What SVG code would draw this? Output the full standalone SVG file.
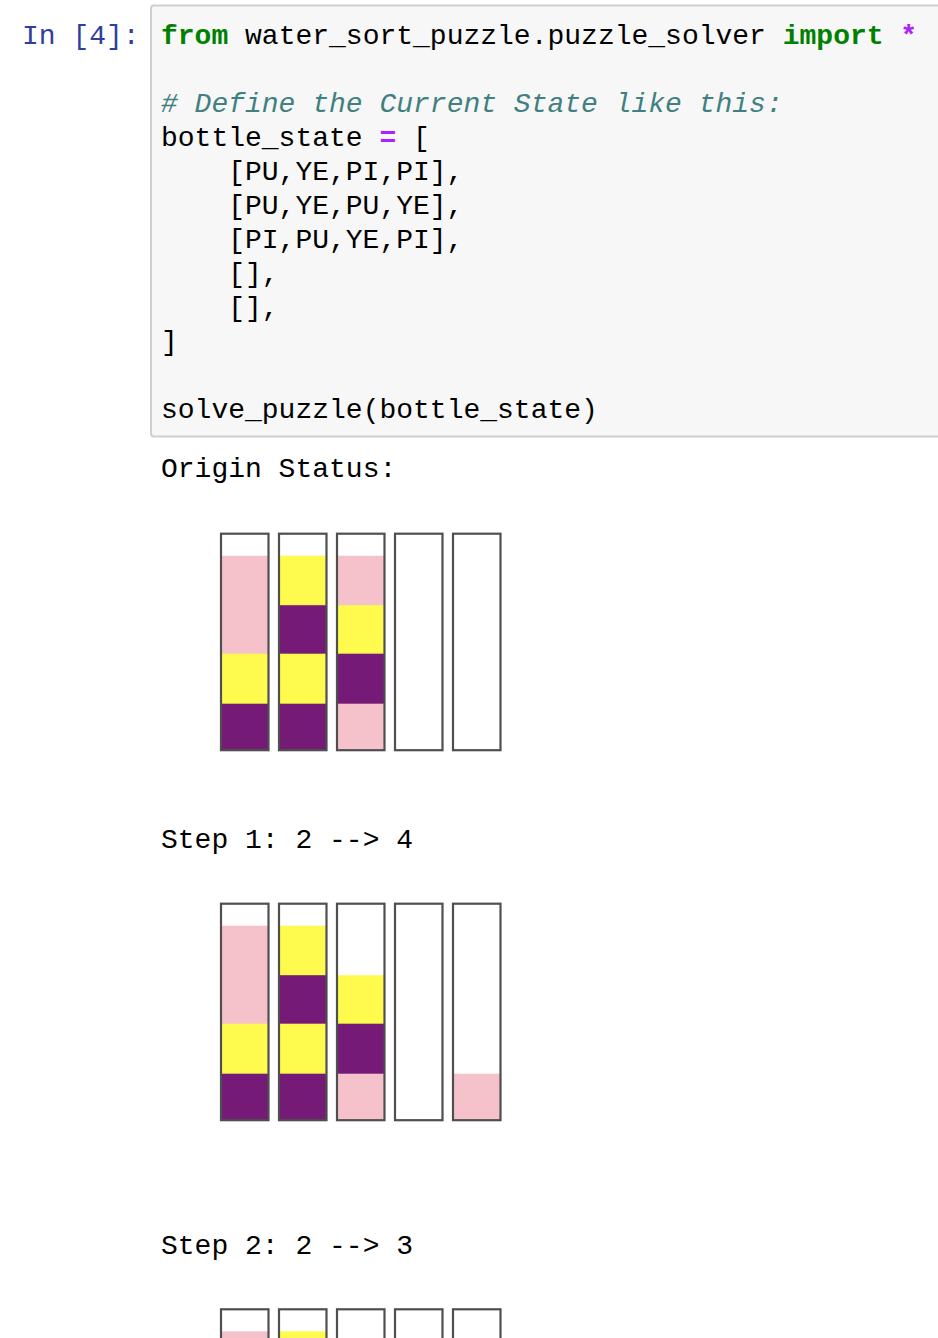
<svg xmlns="http://www.w3.org/2000/svg" width="938" height="1338" viewBox="0 0 938 1338">
<style>
text{font-family:"Liberation Mono","Courier New",monospace;font-size:28px;fill:#000;white-space:pre}
.prompt{fill:#303F9F}
.kw{fill:#008000;font-weight:bold}
.op{fill:#AA22FF;font-weight:bold}
.cm{fill:#408080;font-style:italic}
.pi{fill:#F5C2CB}
.ye{fill:#FEFB4E}
.pu{fill:#761A77}
.ol{fill:none;stroke:#4F4F4F;stroke-width:2.2}
</style>
<defs>
<rect id="outline" class="ol" x="0" y="0" width="47.5" height="216.5"/>
<rect id="u3" x="0" y="22" width="47.5" height="50.5"/>
<rect id="u2" x="0" y="71.5" width="47.5" height="49.5"/>
<rect id="u1" x="0" y="120" width="47.5" height="51"/>
<rect id="u0" x="0" y="170" width="47.5" height="46.5"/>
</defs>
<rect width="938" height="1338" fill="#fff"/>
<g id="prompt"><text class="prompt" x="22" y="44" xml:space="preserve">In [4]:</text></g>
<g id="code-cell">
<rect x="151" y="5.5" width="800" height="431" rx="3" fill="#F7F7F7" stroke="#CFCFCF" stroke-width="2"/>
<text x="161" y="44" xml:space="preserve"><tspan class="kw">from</tspan> water_sort_puzzle.puzzle_solver <tspan class="kw">import</tspan> <tspan class="op">*</tspan></text>
<text class="cm" x="161" y="112" xml:space="preserve"># Define the Current State like this:</text>
<text x="161" y="146" xml:space="preserve">bottle_state <tspan class="op">=</tspan> [</text>
<text x="228.2" y="180" xml:space="preserve">[PU,YE,PI,PI],</text>
<text x="228.2" y="214" xml:space="preserve">[PU,YE,PU,YE],</text>
<text x="228.2" y="248" xml:space="preserve">[PI,PU,YE,PI],</text>
<text x="228.2" y="282" xml:space="preserve">[],</text>
<text x="228.2" y="316" xml:space="preserve">[],</text>
<text x="161" y="350" xml:space="preserve">]</text>
<text x="161" y="418" xml:space="preserve">solve_puzzle(bottle_state)</text>
</g>
<g id="origin">
<text x="161" y="477" xml:space="preserve">Origin Status:</text>
<g id="origin-b1" transform="translate(221,533.7)"><use href="#u3" class="pi"/><use href="#u2" class="pi"/><use href="#u1" class="ye"/><use href="#u0" class="pu"/><use href="#outline"/></g>
<g id="origin-b2" transform="translate(279,533.7)"><use href="#u3" class="ye"/><use href="#u2" class="pu"/><use href="#u1" class="ye"/><use href="#u0" class="pu"/><use href="#outline"/></g>
<g id="origin-b3" transform="translate(337,533.7)"><use href="#u3" class="pi"/><use href="#u2" class="ye"/><use href="#u1" class="pu"/><use href="#u0" class="pi"/><use href="#outline"/></g>
<g id="origin-b4" transform="translate(395,533.7)"><use href="#outline"/></g>
<g id="origin-b5" transform="translate(453,533.7)"><use href="#outline"/></g>
</g>
<g id="step1">
<text x="161" y="848" xml:space="preserve">Step 1: 2 --&gt; 4</text>
<g id="step1-b1" transform="translate(221,903.7)"><use href="#u3" class="pi"/><use href="#u2" class="pi"/><use href="#u1" class="ye"/><use href="#u0" class="pu"/><use href="#outline"/></g>
<g id="step1-b2" transform="translate(279,903.7)"><use href="#u3" class="ye"/><use href="#u2" class="pu"/><use href="#u1" class="ye"/><use href="#u0" class="pu"/><use href="#outline"/></g>
<g id="step1-b3" transform="translate(337,903.7)"><use href="#u2" class="ye"/><use href="#u1" class="pu"/><use href="#u0" class="pi"/><use href="#outline"/></g>
<g id="step1-b4" transform="translate(395,903.7)"><use href="#outline"/></g>
<g id="step1-b5" transform="translate(453,903.7)"><use href="#u0" class="pi"/><use href="#outline"/></g>
</g>
<g id="step2">
<text x="161" y="1254" xml:space="preserve">Step 2: 2 --&gt; 3</text>
<g id="step2-b1" transform="translate(221,1309.3)"><use href="#u3" class="pi"/><use href="#u2" class="pi"/><use href="#u1" class="ye"/><use href="#u0" class="pu"/><use href="#outline"/></g>
<g id="step2-b2" transform="translate(279,1309.3)"><use href="#u3" class="ye"/><use href="#u2" class="pu"/><use href="#u1" class="ye"/><use href="#u0" class="pu"/><use href="#outline"/></g>
<g id="step2-b3" transform="translate(337,1309.3)"><use href="#u1" class="pu"/><use href="#u0" class="pi"/><use href="#outline"/></g>
<g id="step2-b4" transform="translate(395,1309.3)"><use href="#u0" class="ye"/><use href="#outline"/></g>
<g id="step2-b5" transform="translate(453,1309.3)"><use href="#u0" class="pi"/><use href="#outline"/></g>
</g>
</svg>
